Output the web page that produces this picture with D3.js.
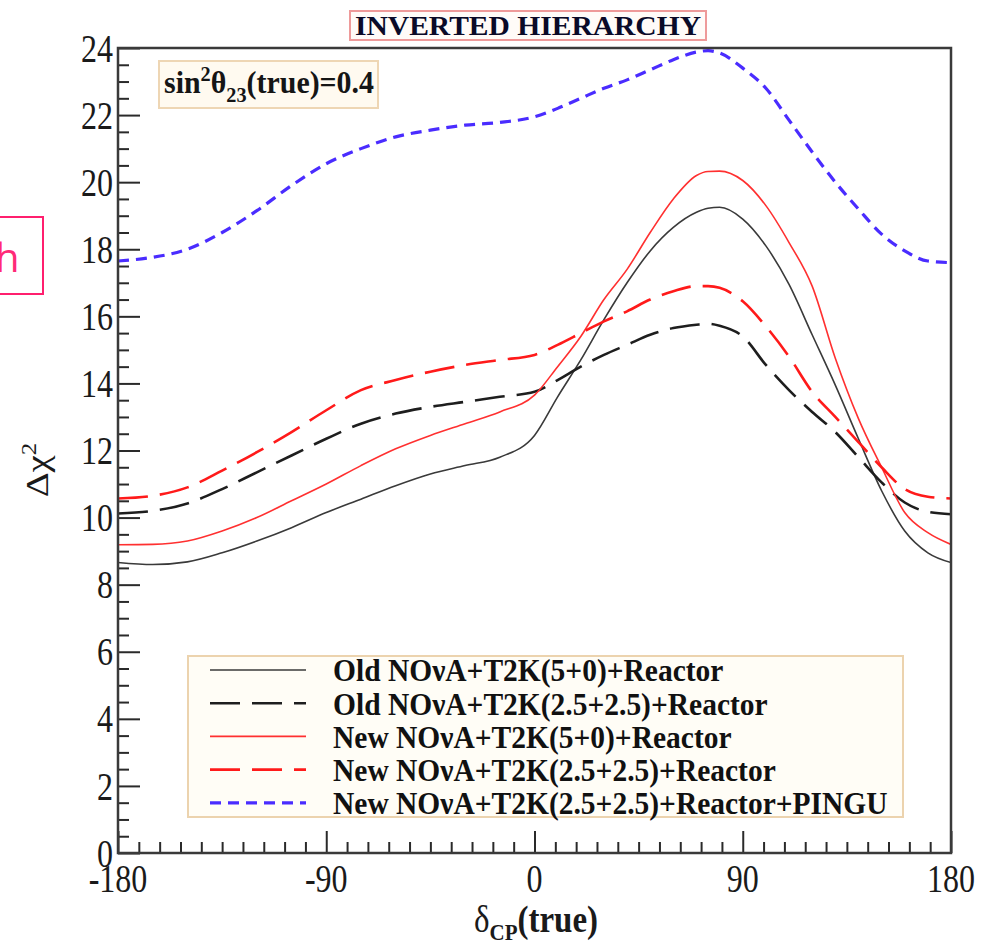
<!DOCTYPE html>
<html>
<head>
<meta charset="utf-8">
<script src="https://cdn.jsdelivr.net/npm/d3@7/dist/d3.min.js"></script>
<style>
  html, body { margin: 0; padding: 0; background: #ffffff; }
  svg { display: block; }
  text { font-family: "Liberation Serif", "Times New Roman", serif; }
  text.note { font-family: "Open Sans", "Noto Sans", sans-serif; }
</style>
</head>
<body>
<svg id="chart" width="982" height="947"></svg>
<script>
// δCP(true) sample points in degrees
const deltaCP = [-180,-165,-150,-135,-120,-105,-90,-75,-60,-45,-30,-15,0,10,20,30,40,50,60,70,75,80,90,100,110,120,130,140,150,160,170,180];

// Δχ² for each configuration
const oldSolid = [8.66,8.6,8.68,8.95,9.3,9.7,10.15,10.55,10.95,11.3,11.55,11.8,12.45,13.6,14.7,15.9,17.0,17.95,18.65,19.1,19.22,19.25,18.9,18.1,16.95,15.45,13.95,12.35,10.8,9.6,8.95,8.66];
const oldDashed = [10.12,10.2,10.42,10.85,11.35,11.85,12.35,12.8,13.1,13.3,13.45,13.6,13.75,14.1,14.5,14.85,15.15,15.45,15.65,15.75,15.78,15.72,15.4,14.55,13.8,13.15,12.55,11.8,11.05,10.45,10.17,10.1];
const newSolid = [9.19,9.2,9.3,9.6,10.0,10.5,11.0,11.55,12.05,12.45,12.8,13.15,13.65,14.5,15.4,16.5,17.4,18.5,19.5,20.2,20.32,20.33,20.05,19.3,18.2,16.9,14.75,12.95,11.5,10.15,9.55,9.2];
const newDashed = [10.57,10.65,10.9,11.4,11.95,12.55,13.2,13.8,14.1,14.35,14.55,14.7,14.85,15.15,15.5,15.85,16.15,16.5,16.75,16.9,16.9,16.85,16.45,15.7,14.8,13.75,13.0,12.25,11.5,10.85,10.62,10.57];
const newPingu = [17.65,17.76,18.0,18.5,19.15,19.9,20.55,21.0,21.35,21.55,21.7,21.78,21.95,22.2,22.5,22.8,23.05,23.35,23.65,23.88,23.92,23.85,23.4,22.8,21.85,20.9,20.0,19.2,18.45,17.95,17.65,17.6];

const seriesNames = [
  "Old NOνA+T2K(5+0)+Reactor",
  "Old NOνA+T2K(2.5+2.5)+Reactor",
  "New NOνA+T2K(5+0)+Reactor",
  "New NOνA+T2K(2.5+2.5)+Reactor",
  "New NOνA+T2K(2.5+2.5)+Reactor+PINGU"
];
const seriesValues = [oldSolid, oldDashed, newSolid, newDashed, newPingu];

const xTicks = [-180, -90, 0, 90, 180];
const yTicks = [0, 2, 4, 6, 8, 10, 12, 14, 16, 18, 20, 22, 24];

const styles = [
  { color: "#3a3a3a", width: 1.6, dash: null },
  { color: "#1e1e1e", width: 2.6, dash: "30,12" },
  { color: "#ff3030", width: 1.6, dash: null },
  { color: "#ff1a1a", width: 2.6, dash: "30,12" },
  { color: "#4a2cff", width: 3.2, dash: "11,7" }
];

// glyphs in this figure are drawn slightly taller than they are wide
const TALL = 1.25;

const svg = d3.select("#chart");
const plot = { left: 118, right: 951, top: 48, bottom: 853 };

const x = d3.scaleLinear().domain([-180, 180]).range([plot.left, plot.right]);
const y = d3.scaleLinear().domain([0, 24]).range([plot.bottom, plot.top]);

// curves
const line = d3.line()
  .x(d => x(d[0]))
  .y(d => y(d[1]))
  .curve(d3.curveMonotoneX);

svg.append("clipPath").attr("id", "clip").append("rect")
  .attr("x", plot.left).attr("y", plot.top - 4)
  .attr("width", plot.right - plot.left).attr("height", plot.bottom - plot.top + 4);
const curves = svg.append("g").attr("clip-path", "url(#clip)");

seriesValues.forEach((vals, i) => {
  const pts = deltaCP.map((d, j) => [d, vals[j]]);
  curves.append("path")
    .datum(pts)
    .attr("d", line)
    .attr("fill", "none")
    .attr("stroke", styles[i].color)
    .attr("stroke-width", styles[i].width)
    .attr("stroke-dasharray", styles[i].dash);
});

// axes: ticks point inward
const yAxis = d3.axisRight(y)
  .tickValues(d3.range(0, 24.01, 0.5))
  .tickSize(0)
  .tickFormat("");
const gy = svg.append("g").attr("transform", `translate(${plot.left},0)`).call(yAxis);
gy.select(".domain").remove();
gy.selectAll(".tick line")
  .attr("x2", d => (Math.abs(d % 2) < 1e-6 ? 22 : 11))
  .attr("stroke", "#2a2a2a").attr("stroke-width", 2);

const xAxis = d3.axisTop(x)
  .tickValues(d3.range(-180, 180.01, 9))
  .tickSize(0)
  .tickFormat("");
const gx = svg.append("g").attr("transform", `translate(0,${plot.bottom})`).call(xAxis);
gx.select(".domain").remove();
gx.selectAll(".tick line")
  .attr("y2", d => (Math.abs(d % 90) < 1e-6 ? -22 : -11))
  .attr("stroke", "#2a2a2a").attr("stroke-width", 2);

// frame
svg.append("rect")
  .attr("x", plot.left).attr("y", plot.top)
  .attr("width", plot.right - plot.left).attr("height", plot.bottom - plot.top)
  .attr("fill", "none").attr("stroke", "#3a3a3a").attr("stroke-width", 2.5);

// tick labels
svg.append("g").selectAll("text").data(yTicks).join("text")
  .attr("transform", d => `translate(${plot.left - 5},${y(d)}) scale(1,${TALL})`)
  .attr("dy", "0.34em")
  .attr("text-anchor", "end").attr("font-size", 32).attr("fill", "#1a1a1a")
  .text(d => d);

svg.append("g").selectAll("text").data(xTicks).join("text")
  .attr("transform", d => `translate(${x(d)},892) scale(1,${TALL})`)
  .attr("text-anchor", "middle").attr("font-size", 32).attr("fill", "#1a1a1a")
  .text(d => d);

// axis titles
const yTitle = svg.append("text")
  .attr("transform", `translate(48,470) scale(1,${TALL}) rotate(-90)`)
  .attr("text-anchor", "middle").attr("font-size", 31).attr("fill", "#1a1a1a");
yTitle.append("tspan").text("Δχ");
yTitle.append("tspan").attr("dy", -12).attr("font-size", 20).text("2");

const xTitle = svg.append("text")
  .attr("transform", `translate(536,932) scale(1,1.12)`)
  .attr("text-anchor", "middle").attr("font-size", 33).attr("font-weight", "bold").attr("fill", "#1a1a1a");
xTitle.append("tspan").attr("font-weight", "normal").text("δ");
xTitle.append("tspan").attr("dy", 7).attr("font-size", 21).text("CP");
xTitle.append("tspan").attr("dy", -7).text("(true)");

// title box
svg.append("rect")
  .attr("x", 350).attr("y", 11).attr("width", 356).attr("height", 29)
  .attr("fill", "#fffbf8").attr("stroke", "#ee9a9a").attr("stroke-width", 2);
svg.append("text")
  .attr("x", 528).attr("y", 35)
  .attr("text-anchor", "middle").attr("font-size", 28).attr("font-weight", "bold")
  .attr("fill", "#0a0a28")
  .attr("textLength", 346).attr("lengthAdjust", "spacingAndGlyphs")
  .text("INVERTED HIERARCHY");

// parameter box
svg.append("rect")
  .attr("x", 159).attr("y", 61).attr("width", 219).attr("height", 47)
  .attr("fill", "#fffaf0").attr("stroke", "#eed6b4").attr("stroke-width", 2);
const param = svg.append("text")
  .attr("transform", "translate(164,93) scale(1,1.1)")
  .attr("font-size", 28).attr("font-weight", "bold").attr("fill", "#151515")
  .attr("textLength", 210).attr("lengthAdjust", "spacingAndGlyphs");
param.append("tspan").text("sin");
param.append("tspan").attr("dy", -11).attr("font-size", 19).text("2");
param.append("tspan").attr("dy", 11).text("θ");
param.append("tspan").attr("dy", 8).attr("font-size", 19).text("23");
param.append("tspan").attr("dy", -8).text("(true)=0.4");

// legend
const legend = svg.append("g");
legend.append("rect")
  .attr("x", 188).attr("y", 656).attr("width", 715).attr("height", 161)
  .attr("fill", "#fffdf6").attr("stroke", "#ecd3ae").attr("stroke-width", 2);
const rowY = i => 670 + i * 33.2;
seriesNames.forEach((name, i) => {
  legend.append("line")
    .attr("x1", 210).attr("x2", 306).attr("y1", rowY(i)).attr("y2", rowY(i))
    .attr("stroke", styles[i].color).attr("stroke-width", styles[i].width)
    .attr("stroke-dasharray", styles[i].dash);
  legend.append("text")
    .attr("transform", `translate(333,${rowY(i)}) scale(1,1.1)`)
    .attr("dy", "0.35em")
    .attr("font-size", 29.5).attr("font-weight", "bold").attr("fill", "#111")
    .text(name);
});

// clipped side note at the left edge
svg.append("rect")
  .attr("x", -2).attr("y", 217).attr("width", 45).attr("height", 77)
  .attr("fill", "none").attr("stroke", "#ff1f6e").attr("stroke-width", 2);
svg.append("text")
  .attr("class", "note")
  .attr("x", -5).attr("y", 272)
  .attr("font-size", 40)
  .attr("fill", "#ff2a78").text("h");
</script>
</body>
</html>
